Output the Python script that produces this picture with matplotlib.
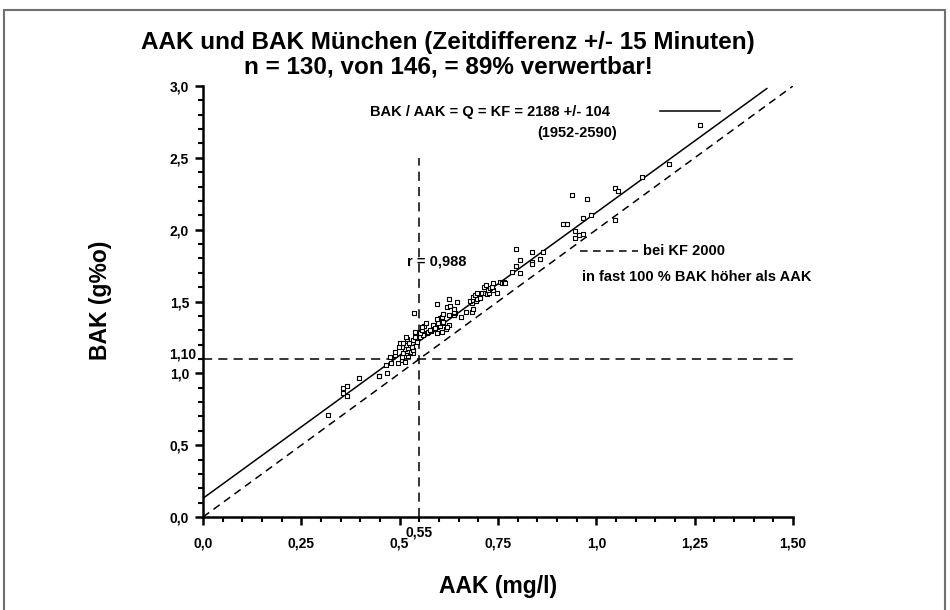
import matplotlib
matplotlib.use("Agg")
import matplotlib.pyplot as plt
from matplotlib.patches import Rectangle
from matplotlib.ticker import FixedLocator, MultipleLocator, FixedFormatter
import matplotlib.transforms as mtransforms

plt.rcParams['font.family'] = ['Liberation Sans', 'DejaVu Sans']
plt.rcParams['font.weight'] = 'bold'

# ---- data ----
aak = [0.317, 0.357, 0.367, 0.357, 0.367, 0.397, 0.447, 0.448, 0.467, 0.465, 0.477, 0.475,
       0.488, 0.497, 0.505, 0.488, 0.514, 0.505, 0.522, 0.509, 0.518, 0.535, 0.526, 0.535,
       0.518, 0.514, 0.522, 0.505, 0.531, 0.498, 0.522, 0.516, 0.501, 0.509, 0.524, 0.535,
       0.518, 0.516, 0.543, 0.539, 0.552, 0.559, 0.548, 0.539, 0.552, 0.556, 0.562, 0.567,
       0.556, 0.536, 0.569, 0.573, 0.579, 0.586, 0.594, 0.586, 0.577, 0.590, 0.596, 0.607,
       0.618, 0.626, 0.620, 0.603, 0.598, 0.611, 0.609, 0.603, 0.607, 0.611, 0.596, 0.637,
       0.626, 0.641, 0.637, 0.655, 0.669, 0.620, 0.637, 0.628, 0.596, 0.626, 0.647, 0.683,
       0.686, 0.683, 0.679, 0.686, 0.694, 0.697, 0.704, 0.687, 0.692, 0.696, 0.709, 0.717,
       0.723, 0.728, 0.747, 0.714, 0.720, 0.725, 0.738, 0.730, 0.734, 0.737, 0.755, 0.759,
       0.764, 0.768, 0.785, 0.806, 0.797, 0.806, 0.836, 0.836, 0.857, 0.796, 0.836, 0.865,
       0.946, 0.946, 0.957, 0.967, 0.967, 0.987, 0.915, 0.926, 1.047, 0.937, 0.977, 1.048,
       1.056, 1.115, 1.185, 1.264]
bak = [0.71, 0.90, 0.91, 0.86, 0.84, 0.97, 0.98, 0.98, 1.00, 1.06, 1.07, 1.115,
       1.127, 1.07, 1.093, 1.15, 1.081, 1.116, 1.12, 1.139, 1.139, 1.139, 1.15, 1.162,
       1.157, 1.167, 1.174, 1.185, 1.185, 1.181, 1.197, 1.197, 1.209, 1.213, 1.213, 1.232,
       1.237, 1.25, 1.22, 1.255, 1.255, 1.267, 1.29, 1.29, 1.278, 1.30, 1.33, 1.348,
       1.324, 1.418, 1.278, 1.29, 1.296, 1.306, 1.324, 1.336, 1.30, 1.313, 1.283, 1.29,
       1.306, 1.336, 1.324, 1.33, 1.35, 1.35, 1.36, 1.383, 1.394, 1.413, 1.376, 1.405,
       1.405, 1.42, 1.43, 1.39, 1.425, 1.46, 1.45, 1.47, 1.48, 1.517, 1.50, 1.429,
       1.445, 1.487, 1.505, 1.51, 1.505, 1.515, 1.522, 1.533, 1.545, 1.561, 1.557, 1.557,
       1.552, 1.557, 1.561, 1.598, 1.615, 1.58, 1.58, 1.592, 1.603, 1.626, 1.637, 1.626,
       1.637, 1.626, 1.707, 1.696, 1.749, 1.79, 1.777, 1.76, 1.793, 1.865, 1.846, 1.846,
       1.94, 1.99, 1.96, 1.97, 2.08, 2.10, 2.04, 2.04, 2.07, 2.24, 2.21, 2.29,
       2.27, 2.37, 2.46, 2.73]

fit_intercept = 0.13
fit_slope = 1.99
fit_x_end = 1.435
kf_ref = 2.0
cross_x = 0.55
cross_y = 1.10
cross_x_top = 2.5

xticks = [0.0, 0.25, 0.5, 0.75, 1.0, 1.25, 1.5]
xticklabels = ["0,0", "0,25", "0,5", "0,75", "1,0", "1,25", "1,50"]
yticks = [0.0, 0.5, 1.0, 1.5, 2.0, 2.5, 3.0]
yticklabels = ["0,0", "0,5", "1,0", "1,5", "2,0", "2,5", "3,0"]

W, H = 950, 610
fig = plt.figure(figsize=(W / 100, H / 100), dpi=100)
fig.patch.set_facecolor('white')
fig.add_artist(Rectangle((4 / W, -0.01), 941 / W, 1 - 10 / H + 0.01, transform=fig.transFigure,
                         fill=False, edgecolor='#707070', linewidth=1.5))

ax = fig.add_axes([203 / W, 1 - 517 / H, 590 / W, 431 / H])
ax.set_xlim(0, 1.5)
ax.set_ylim(0, 3.0)
for s in ['top', 'right']:
    ax.spines[s].set_visible(False)
for s in ['left', 'bottom']:
    ax.spines[s].set_linewidth(1.8)

ax.xaxis.set_major_locator(FixedLocator(xticks))
ax.xaxis.set_major_formatter(FixedFormatter(xticklabels))
ax.yaxis.set_major_locator(FixedLocator(yticks))
ax.yaxis.set_major_formatter(FixedFormatter(yticklabels))
ax.xaxis.set_minor_locator(MultipleLocator(0.05))
ax.yaxis.set_minor_locator(MultipleLocator(0.1))
ax.tick_params(which='major', direction='out', length=6, width=1.8, labelsize=10, pad=8)
ax.tick_params(which='minor', direction='out', length=3.5, width=1.5)
ax.tick_params(axis='y', which='major', pad=4)
for lab in ax.get_xticklabels() + ax.get_yticklabels():
    lab.set_fontweight('bold')

# lines
ax.plot([0, fit_x_end], [fit_intercept, fit_intercept + fit_slope * fit_x_end],
        color='black', lw=1.1, solid_capstyle='butt')
ax.plot([0, 1.5], [0, kf_ref * 1.5], color='black', lw=1.1, dashes=(5, 3.5))
ax.plot([0, 1.5], [cross_y, cross_y], color='black', lw=1.1, dashes=(6, 4))
ax.plot([cross_x, cross_x], [0, cross_x_top], color='black', lw=1.1, dashes=(6, 4))

ax.scatter(aak, bak, marker='s', s=12, facecolors='white', edgecolors='black',
           linewidths=0.8, zorder=3)

# extra labels
trans_x = mtransforms.blended_transform_factory(ax.transData, ax.transAxes)
ax.annotate("0,55", xy=(cross_x, 0), xycoords=trans_x, xytext=(0, -6),
            textcoords='offset points', ha='center', va='top', fontsize=10, fontweight='bold')
ax.annotate("1,10", xy=(0, cross_y), xycoords=('axes fraction', 'data'), xytext=(-4.5, 3),
            textcoords='offset points', ha='right', va='center', fontsize=10, fontweight='bold')

# legend / annotations
ax.text(0.425, 2.818, "BAK / AAK = Q = KF = 2188 +/- 104", ha='left', va='center',
        fontsize=10.5, fontweight='bold')
ax.text(0.849, 2.672, "(1952-2590)", ha='left', va='center', fontsize=10.5, fontweight='bold')
ax.plot([1.162, 1.314], [2.825, 2.825], color='black', lw=1.1, clip_on=False)
ax.text(0.519, 1.775, "r = 0,988", ha='left', va='center', fontsize=10.5, fontweight='bold')
ax.plot([0.958, 1.106], [1.851, 1.851], color='black', lw=1.1, dashes=(5, 3.5), clip_on=False)
ax.text(1.119, 1.851, "bei KF 2000", ha='left', va='center', fontsize=10.5, fontweight='bold')
ax.text(0.964, 1.67, "in fast 100 % BAK höher als AAK", ha='left', va='center',
        fontsize=10.5, fontweight='bold')

fig.text(448 / W, 1 - 43 / H, "AAK und BAK München (Zeitdifferenz +/- 15 Minuten)",
         ha='center', va='center', fontsize=17.5, fontweight='bold')
fig.text(448 / W, 1 - 67 / H, "n = 130, von 146, = 89% verwertbar!",
         ha='center', va='center', fontsize=17.5, fontweight='bold')
fig.text(100 / W, 1 - 300 / H, "BAK (g%o)", rotation=90, ha='center', va='center',
         fontsize=16.5, fontweight='bold')
fig.text(498 / W, 1 - 586 / H, "AAK (mg/l)", ha='center', va='center',
         fontsize=16.5, fontweight='bold')

fig.savefig("out.png", dpi=100, facecolor='white')
